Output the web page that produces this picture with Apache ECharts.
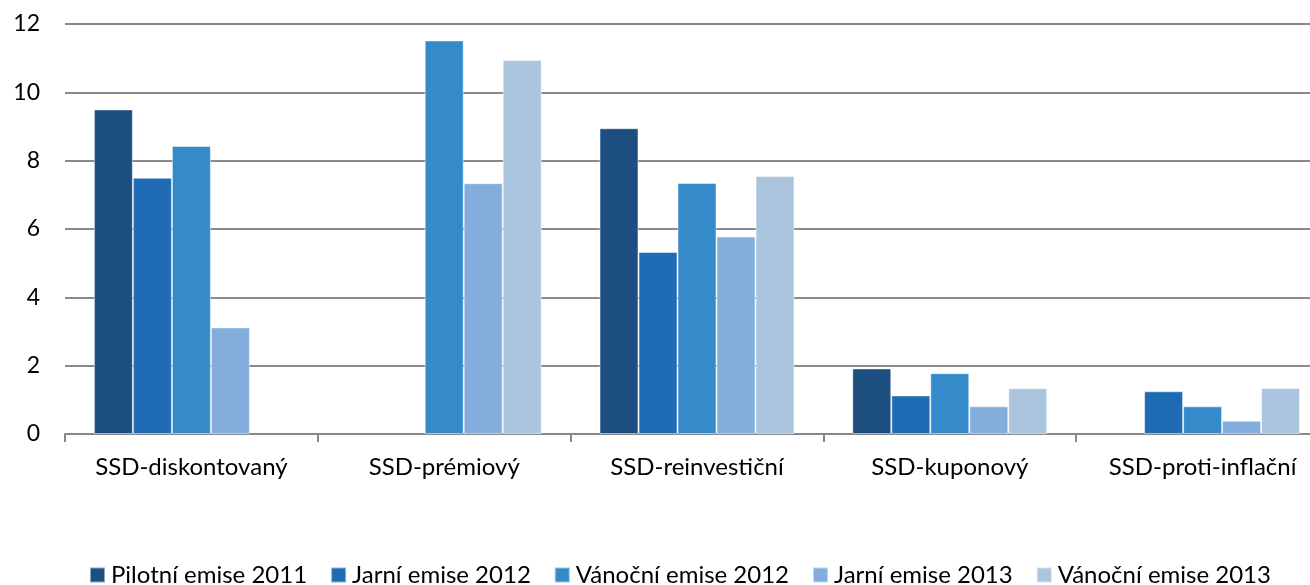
<!DOCTYPE html>
<html>
<head>
<meta charset="utf-8">
<script src="https://cdn.jsdelivr.net/npm/echarts@6/dist/echarts.min.js"></script>
<style>
  html, body { margin: 0; padding: 0; background: #fff; }
  #chart { width: 1310px; height: 585px; }
</style>
</head>
<body>
<div id="chart"></div>
<script>
const categories = ['SSD-diskontovaný', 'SSD-prémiový', 'SSD-reinvestiční', 'SSD-kuponový', 'SSD-proti-inflační']
const seriesNames = ['Pilotní emise 2011', 'Jarní emise 2012', 'Vánoční emise 2012', 'Jarní emise 2013', 'Vánoční emise 2013']
const pilot2011 = [9.5, null, 8.95, 1.92, null]
const jaro2012 = [7.5, null, 5.33, 1.13, 1.25]
const vanoce2012 = [8.43, 11.52, 7.35, 1.78, 0.81]
const jaro2013 = [3.12, 7.34, 5.78, 0.81, 0.39]
const vanoce2013 = [null, 10.95, 7.55, 1.34, 1.35]
const colors = ['#1c4f80', '#1f6bb4', '#358bca', '#82addc', '#abc5df']

const seriesData = [pilot2011, jaro2012, vanoce2012, jaro2013, vanoce2013]
const font = 'Lato'

const chart = echarts.init(document.getElementById('chart'))
chart.setOption({
  animation: false,
  color: colors,
  // the plot runs past the right edge of the picture, like the original
  grid: { left: 65, top: 24, width: 1264, height: 410, outerBoundsMode: 'none' },
  legend: {
    top: 558,
    left: 84,
    itemWidth: 15,
    itemHeight: 15,
    itemGap: 23,
    icon: 'rect',
    textStyle: { fontFamily: font, fontSize: 24, color: '#000', padding: [0, 0, 0, 1] },
    data: seriesNames,
  },
  xAxis: {
    type: 'category',
    data: categories,
    axisLine: { lineStyle: { color: '#888', width: 2 } },
    axisTick: { show: true, length: 8, lineStyle: { color: '#888', width: 2 } },
    axisLabel: { interval: 0, fontFamily: font, fontSize: 24, color: '#000', margin: 21 },
  },
  yAxis: {
    type: 'value',
    min: 0,
    max: 12,
    interval: 2,
    axisLine: { show: false },
    axisTick: { show: false },
    axisLabel: { fontFamily: font, fontSize: 23, color: '#000', margin: 25 },
    splitLine: { lineStyle: { color: '#8a8a8a', width: 2 } },
  },
  series: seriesNames.map((name, i) => ({
    name,
    type: 'bar',
    data: seriesData[i],
    barWidth: 39,
    barGap: '0%',
    itemStyle: { borderColor: 'rgba(255,255,255,0.5)', borderWidth: 1 },
  })),
})
</script>
</body>
</html>
